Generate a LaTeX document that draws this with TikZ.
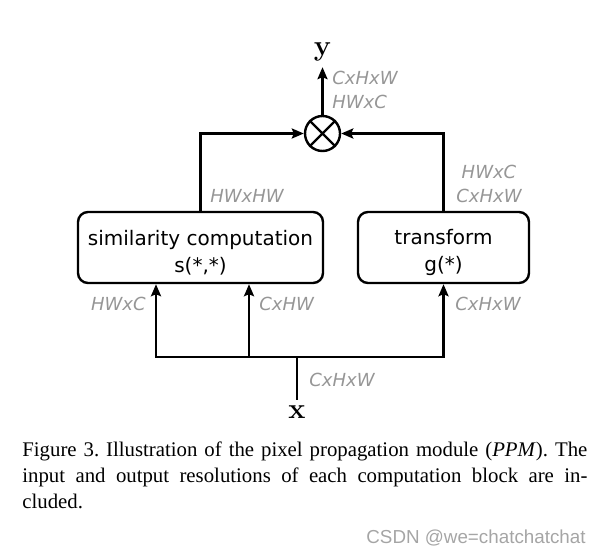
\documentclass[tikz,border=0pt]{standalone}
\usepackage{fontspec}
\usetikzlibrary{arrows.meta}
\newfontfamily\boxfont{DejaVu Sans}
\newfontfamily\capfont{Liberation Serif}
\newfontfamily\markfont{Liberation Sans}
\definecolor{dimlabel}{RGB}{150,150,150}
\definecolor{marklabel}{RGB}{165,165,165}
\newcommand\firstline{\rule{0pt}{12.5pt}}

\begin{document}
\begin{tikzpicture}[x=0.5pt,y=-0.5pt,
  block/.style={draw,line width=1.2pt,rounded corners=5pt,minimum height=35.5pt,inner sep=0pt,align=center,font=\boxfont\fontsize{10}{13.5}\selectfont},
  dims/.style={inner sep=0pt,text=dimlabel,font=\boxfont\itshape\fontsize{9}{12}\selectfont},
  wire/.style={line width=1.2pt},
  flow/.style={wire,-{Stealth[length=6pt,width=5pt,inset=1pt]}},
  var/.style={inner sep=2.5pt,font=\fontsize{14.4}{16}\selectfont\bfseries}]
\useasboundingbox (0,0) rectangle (603,556);
% blocks
\node[block,minimum width=122.5pt] (sim) at (200.5,247.5) {\firstline similarity computation\\s(*,*)};
\node[block,minimum width=85.5pt] (trans) at (443.5,247.5) {\firstline transform\\g(*)};
\node[draw,circle,wire,minimum size=17.5pt,inner sep=0pt] (mul) at (322.5,133.5) {};
\draw[wire] (mul.north west)--(mul.south east) (mul.north east)--(mul.south west);
\node[var,anchor=base] (y) at (322.5,56) {y};
\node[var,anchor=base] (x) at (297,418) {x};
% top
\draw[flow] (sim.north) |- (mul.west);
\draw[flow] (trans.north) |- (mul.east);
\draw[flow] (mul.north) -- (y);
% bottom
\coordinate (fork) at (297,357);
\coordinate (tapA) at (156,357);
\coordinate (tapB) at (249,357);
\draw[wire] (x) -- (fork);
\draw[flow] (fork) -| (trans.south);
\draw[flow] (fork) -- (tapA) -- (tapA |- sim.south);
\draw[flow] (tapB) -- (tapB |- sim.south);
% sizes
\node[dims,anchor=west,align=left] (outdims) at (332,90) {CxHxW\\HWxC};
\node[dims,anchor=west] (simout) at (210,196) {HWxHW};
\node[dims,align=center] (transout) at (489,184) {HWxC\\CxHxW};
\node[dims,anchor=east] (simin1) at (146,304) {HWxC};
\node[dims,anchor=west] (simin2) at (259,304) {CxHW};
\node[dims,anchor=west] (transin) at (455,304) {CxHxW};
\node[dims,anchor=west] (xdims) at (309,380) {CxHxW};
% caption
\node[anchor=north west,inner sep=0pt,text width=282.5pt,align=justify,font=\capfont\fontsize{10.4}{13}\selectfont] (caption) at (22,441) {\frenchspacing\tolerance=9999\hbadness=10000 Figure 3. Illustration of the pixel propagation module (\textit{PPM}). The\linebreak input and output resolutions of each computation block are in-\linebreak cluded.};
\node[anchor=base east,inner sep=0pt,text=marklabel,font=\markfont\fontsize{9.4}{11}\selectfont] (mark) at (586,543) {CSDN @we=chatchatchat};
\end{tikzpicture}
\end{document}
